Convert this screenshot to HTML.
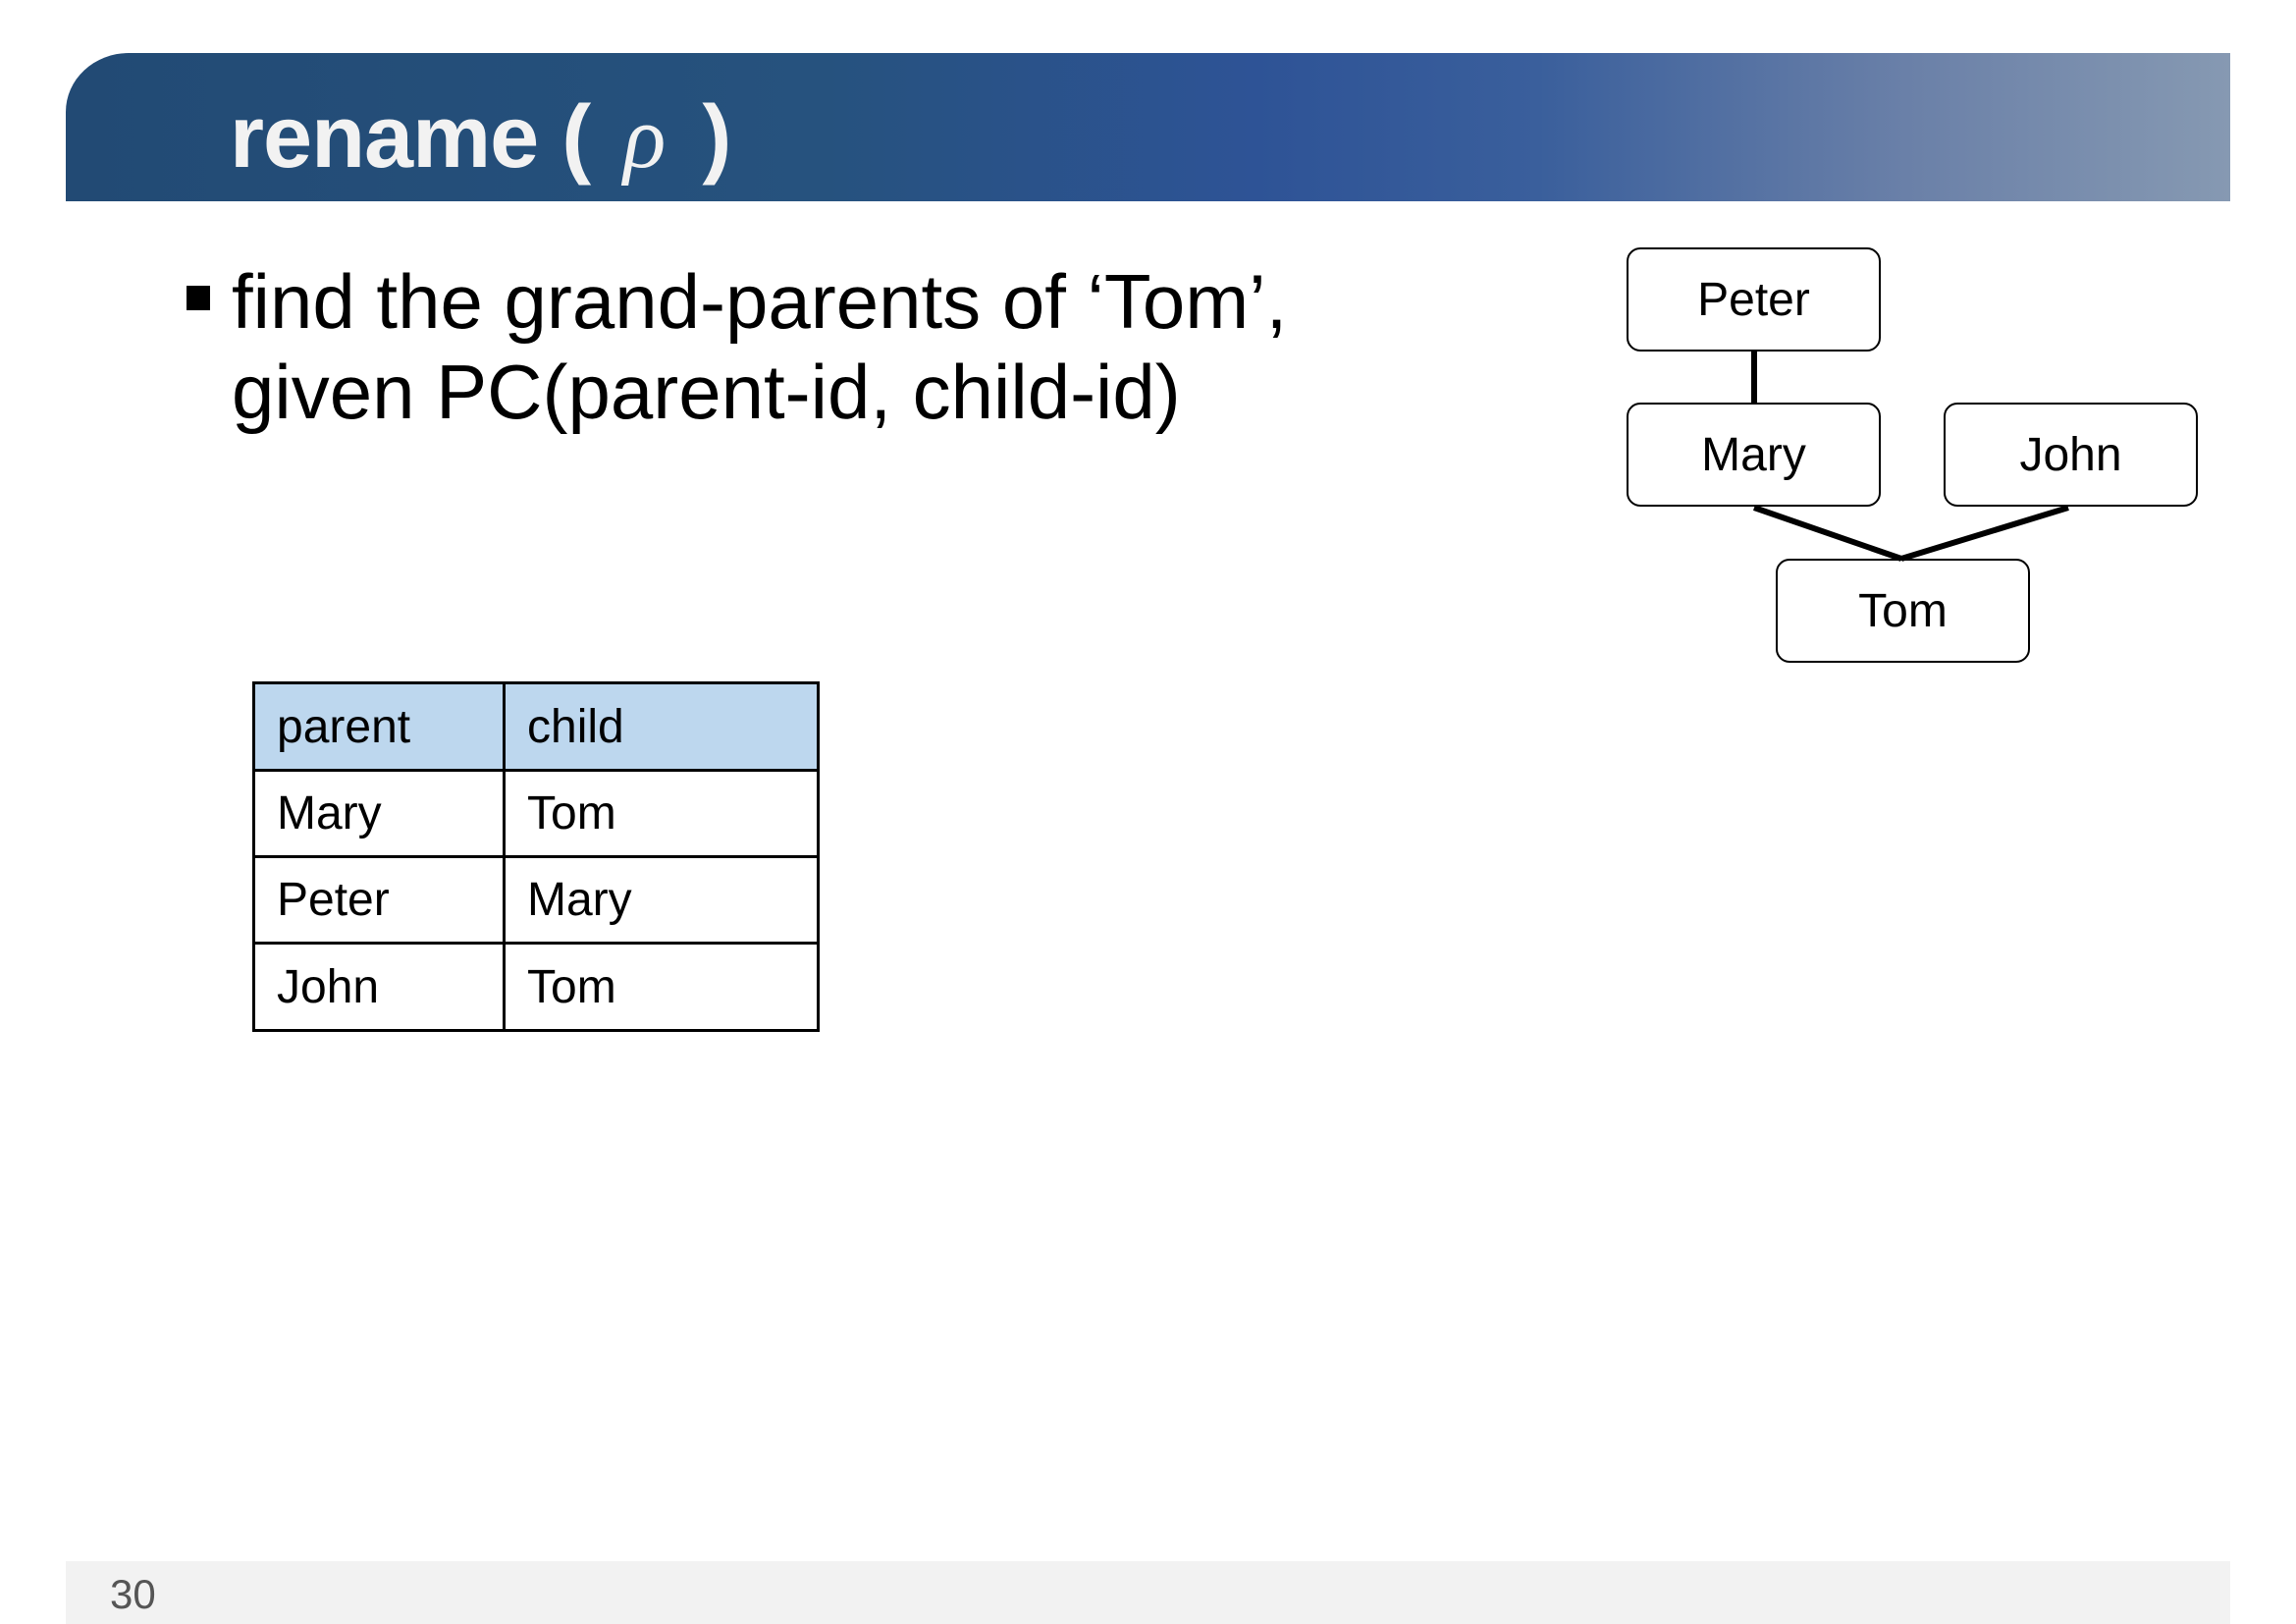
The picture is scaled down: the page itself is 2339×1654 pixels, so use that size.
<!DOCTYPE html>
<html><head><meta charset="utf-8"><style>
body{margin:0;width:2339px;height:1654px;background:#fff;position:relative;overflow:hidden;font-family:"Liberation Sans",sans-serif}
.hdr{position:absolute;left:67px;top:54px;width:2205px;height:151px;border-top-left-radius:64px 60px;background:linear-gradient(90deg,#224a74 0%,#26527e 35%,#2e5396 55%,#3a5f9c 68%,#6a80a8 85%,#8699b2 100%)}
.title{position:absolute;left:234px;top:95px;font-size:90px;font-weight:bold;color:#f2f2f2;letter-spacing:-1px;line-height:1;white-space:pre}
.bul{position:absolute;left:190px;top:291px;width:24px;height:25px;background:#000}
.txt{position:absolute;left:236px;top:261px;font-size:78px;line-height:92px;color:#000}
.box{position:absolute;width:259px;height:106px;border:2.5px solid #000;border-radius:14px;box-sizing:border-box;font-size:48px;display:flex;align-items:center;justify-content:center}
table{position:absolute;left:257px;top:694px;border-collapse:collapse;font-size:48px}
td{border:3px solid #000;padding:0 0 0 22px;box-sizing:border-box}
.foot{position:absolute;left:67px;top:1590px;width:2205px;height:64px;background:#f2f2f2}
.num{position:absolute;left:112px;top:1600px;font-size:42px;color:#555}
</style></head><body>
<div class="hdr"></div>
<div class="title">rename ( <span style="font-family:'Liberation Serif',serif;font-style:italic;font-weight:normal;margin:0 14px 0 10px">ρ</span> )</div>
<div class="bul"></div>
<div class="txt">find the grand-parents of ‘Tom’,<br>given PC(parent-id, child-id)</div>
<svg style="position:absolute;left:0;top:0" width="2339" height="1654">
<line x1="1787" y1="358" x2="1787" y2="410" stroke="#000" stroke-width="6"/>
<line x1="1787" y1="517" x2="1937" y2="569" stroke="#000" stroke-width="6"/>
<line x1="2107" y1="517" x2="1937" y2="569" stroke="#000" stroke-width="6"/>
</svg>
<div class="box" style="left:1657px;top:252px">Peter</div>
<div class="box" style="left:1657px;top:410px">Mary</div>
<div class="box" style="left:1980px;top:410px">John</div>
<div class="box" style="left:1809px;top:569px">Tom</div>
<table>
<tr style="background:#bdd7ee"><td style="width:255px;height:89px">parent</td><td style="width:320px">child</td></tr>
<tr><td style="height:88px">Mary</td><td>Tom</td></tr>
<tr><td style="height:88px">Peter</td><td>Mary</td></tr>
<tr><td style="height:89px">John</td><td>Tom</td></tr>
</table>
<div class="foot"></div>
<div class="num">30</div>
</body></html>
